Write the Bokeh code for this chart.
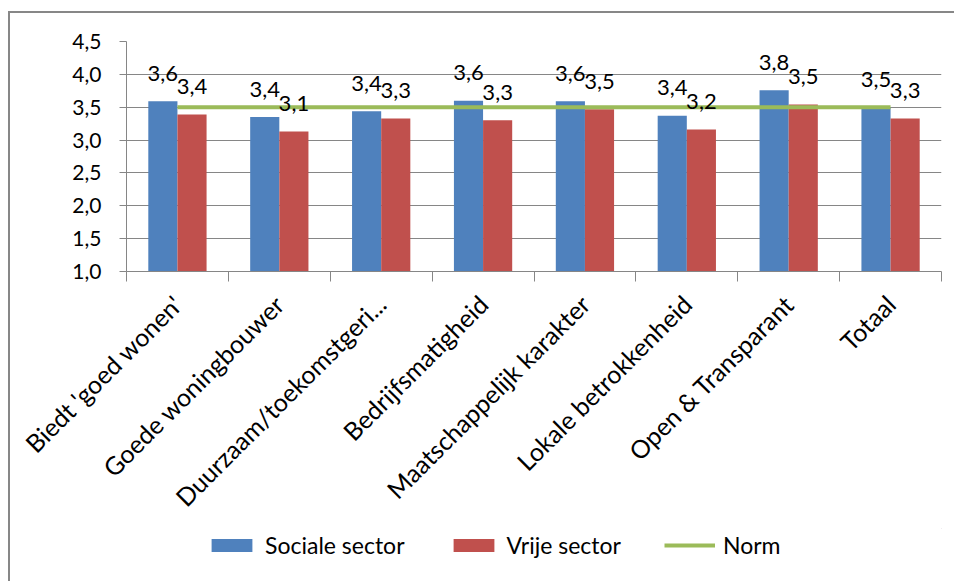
import numpy as np
from math import pi
from bokeh.plotting import figure
from bokeh.layouts import column
from bokeh.models import (ColumnDataSource, FixedTicker, CustomJSTickFormatter,
                          Legend, LegendItem, Range1d)
from bokeh.core.properties import value
from bokeh.embed import file_html
from bokeh.resources import INLINE

# --- data -------------------------------------------------------------
categories = ["Biedt 'goed wonen'", "Goede woningbouwer", "Duurzaam/toekomstgeri...",
              "Bedrijfsmatigheid", "Maatschappelijk karakter", "Lokale betrokkenheid",
              "Open & Transparant", "Totaal"]
sociale_sector = [3.59, 3.35, 3.44, 3.60, 3.59, 3.37, 3.76, 3.50]
vrije_sector = [3.39, 3.13, 3.33, 3.30, 3.47, 3.16, 3.54, 3.33]
norm = [3.5, 3.5, 3.5, 3.5, 3.5, 3.5, 3.5, 3.5]
y_ticks = [1.0, 1.5, 2.0, 2.5, 3.0, 3.5, 4.0, 4.5]
series_names = ["Sociale sector", "Vrije sector", "Norm"]

FONT = "Lato"
BLUE, RED, GREEN, GRID = "#4F81BD", "#C0504D", "#9BBB59", "#868686"

centers = np.arange(len(categories)) + 0.5
off = 0.143
bar_w = 0.286
W = 944
H_MAIN, H_LEG = 515, 53


def fmt(v):
    return f"{v:.1f}".replace(".", ",")


src_s = ColumnDataSource(dict(x=centers - off, top=sociale_sector,
                              lbl=[fmt(v) for v in sociale_sector]))
src_v = ColumnDataSource(dict(x=centers + off, top=vrije_sector,
                              lbl=[fmt(v) for v in vrije_sector]))
src_n = ColumnDataSource(dict(x=centers, y=norm))

p = figure(width=W, height=H_MAIN, output_backend="svg", toolbar_location=None,
           x_range=Range1d(0, len(categories)), y_range=Range1d(y_ticks[0], y_ticks[-1]),
           min_border_left=116, min_border_top=28, min_border_right=13,
           min_border_bottom=257)
p.outline_line_color = None
p.background_fill_color = "white"
p.border_fill_color = "white"

# grid
p.xgrid.visible = False
p.ygrid.grid_line_color = GRID
p.ygrid.grid_line_width = 1

# y axis
p.yaxis.ticker = FixedTicker(ticks=y_ticks)
p.yaxis.formatter = CustomJSTickFormatter(code="return tick.toFixed(1).replace('.', ',');")
p.yaxis.axis_line_color = GRID
p.yaxis.major_tick_line_color = GRID
p.yaxis.major_tick_out = 7
p.yaxis.major_tick_in = 0
p.yaxis.minor_tick_line_color = None
p.yaxis.major_label_standoff = 18
p.yaxis.major_label_text_font = FONT
p.yaxis.major_label_text_font_size = "21px"
p.yaxis.major_label_text_color = "black"

# x axis: labels at category centres, ticks at category boundaries
p.xaxis.ticker = FixedTicker(ticks=list(centers),
                             minor_ticks=list(range(len(categories) + 1)))
p.xaxis.major_label_overrides = {float(c): name for c, name in zip(centers, categories)}
p.xaxis.major_label_orientation = pi / 4
p.xaxis.axis_line_color = GRID
p.xaxis.major_tick_line_color = None
p.xaxis.major_tick_out = 10
p.xaxis.minor_tick_line_color = GRID
p.xaxis.minor_tick_out = 10
p.xaxis.minor_tick_in = 0
p.xaxis.major_label_standoff = 18
p.xaxis.major_label_text_font = FONT
p.xaxis.major_label_text_font_size = "25px"
p.xaxis.major_label_text_color = "black"

# bars
p.vbar(x="x", top="top", bottom=y_ticks[0], width=bar_w, source=src_s,
       fill_color=BLUE, line_color=None)
p.vbar(x="x", top="top", bottom=y_ticks[0], width=bar_w, source=src_v,
       fill_color=RED, line_color=None)

# norm line
p.line(x="x", y="y", source=src_n, line_color=GREEN, line_width=4)

# value labels
for src in (src_s, src_v):
    p.text(x="x", y="top", text="lbl", source=src, text_align="center",
           text_baseline="alphabetic", y_offset=-28, text_font=value(FONT),
           text_font_size="22px", text_color="black")

# legend strip underneath the chart (its swatches come from off-screen glyphs)
lf = figure(width=W, height=H_LEG, output_backend="svg", toolbar_location=None,
            x_axis_location=None, y_axis_location=None, min_border=0,
            x_range=Range1d(0, 1), y_range=Range1d(0, 1))
lf.outline_line_color = None
lf.grid.visible = False
lf.border_fill_color = "white"
g_s = lf.vbar(x=[5], top=[5], bottom=4, width=1, fill_color=BLUE, line_color=None)
g_v = lf.vbar(x=[5], top=[5], bottom=4, width=1, fill_color=RED, line_color=None)
g_n = lf.line(x=[5, 6], y=[5, 5], line_color=GREEN, line_width=4)

legend = Legend(items=[LegendItem(label=n, renderers=[r])
                       for n, r in zip(series_names, (g_s, g_v, g_n))],
                orientation="horizontal", location=(80, 22),
                glyph_width=51, glyph_height=16, label_standoff=8, spacing=43,
                padding=0, margin=0, border_line_color=None,
                background_fill_alpha=0, label_text_font=FONT,
                label_text_font_size="23px", label_text_color="black")
lf.add_layout(legend, "center")

page = column(p, lf, spacing=0,
              styles={"margin-left": "8px", "margin-top": "11px",
                      "border-top": "2px solid #878787",
                      "border-left": "2px solid #878787"})

open("out.html", "w").write(file_html(page, INLINE))
